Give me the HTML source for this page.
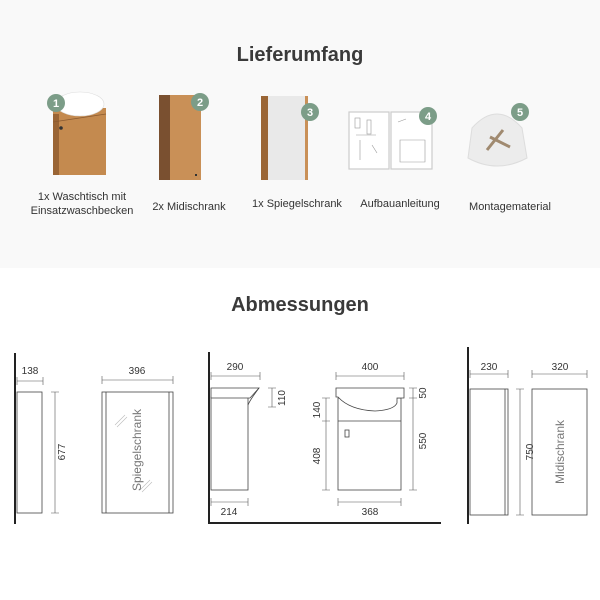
<!DOCTYPE html>
<html><head><meta charset="utf-8"><style>
html,body{margin:0;padding:0;background:#fff;}
svg{display:block;font-family:"Liberation Sans",sans-serif;}
</style></head><body>
<svg width="600" height="600" viewBox="0 0 600 600" xmlns="http://www.w3.org/2000/svg">
<rect x="-10" y="-10" width="620" height="278" rx="8" fill="#f9f9f9"/>
<text x="300" y="61" text-anchor="middle" font-size="20" font-weight="bold" fill="#3a3a3a">Lieferumfang</text>
<text x="300" y="311" text-anchor="middle" font-size="20" font-weight="bold" fill="#3a3a3a">Abmessungen</text>

<!-- item1 -->
<rect x="53" y="108" width="53" height="67" fill="#c48a4f"/>
<rect x="53" y="114" width="6" height="61" fill="#9a6535"/>
<line x1="53" y1="122" x2="106" y2="114" stroke="#8a5a30" stroke-width="0.8"/>
<ellipse cx="80" cy="104" rx="24" ry="12" fill="#fff" stroke="#ddd" stroke-width="0.6"/>
<circle cx="61" cy="128" r="1.8" fill="#333"/>
<!-- item2 -->
<rect x="159" y="95" width="42" height="85" fill="#c99057"/>
<rect x="159" y="95" width="11" height="85" fill="#7a5030"/>
<rect x="195" y="174" width="2" height="2" fill="#333"/>
<!-- item3 -->
<rect x="261" y="96" width="47" height="84" fill="#e9e9e9"/>
<rect x="261" y="96" width="7" height="84" fill="#9a6535"/>
<rect x="305" y="96" width="3" height="84" fill="#c99057"/>
<!-- item4 -->
<rect x="349" y="112" width="40" height="57" fill="#fff" stroke="#ccc" stroke-width="1.2"/>
<rect x="391" y="112" width="41" height="57" fill="#fff" stroke="#ccc" stroke-width="1.2"/>
<g stroke="#999" stroke-width="0.6" fill="none">
<rect x="355" y="118" width="5" height="10"/><rect x="367" y="120" width="4" height="14"/>
<path d="M356 135 h20 M360 140 v20 M372 145 l5 8 M400 140 h25 v22 h-25z M398 122 l8 -3"/>
</g>
<!-- item5 -->
<path d="M472 128 Q497 100 522 128 L527 158 Q497 174 468 158 Z" fill="#ececec" stroke="#ddd"/>
<path d="M487 150 l16 -20 M490 137 l20 10" stroke="#a08a70" stroke-width="3"/>
<!-- badges -->
<g fill="#7c9d88"><circle cx="56" cy="103" r="9"/><circle cx="200" cy="102" r="9"/><circle cx="310" cy="112" r="9"/><circle cx="428" cy="116" r="9"/><circle cx="520" cy="112" r="9"/></g>
<g fill="#fff" font-size="11" font-weight="bold" text-anchor="middle"><text x="56" y="107">1</text><text x="200" y="106">2</text><text x="310" y="116">3</text><text x="428" y="120">4</text><text x="520" y="116">5</text></g>
<g font-size="11" fill="#333" text-anchor="middle">
<text x="82" y="200">1x Waschtisch mit</text><text x="82" y="214">Einsatzwaschbecken</text>
<text x="189" y="210">2x Midischrank</text><text x="297" y="207">1x Spiegelschrank</text>
<text x="400" y="207">Aufbauanleitung</text><text x="510" y="210">Montagematerial</text>
</g>

<!-- drawings -->
<g stroke="#222" stroke-width="2" fill="none">
<line x1="15" y1="353" x2="15" y2="524"/>
<polyline points="209,352 209,523 441,523"/>
<line x1="468" y1="347" x2="468" y2="524"/>
</g>
<g stroke="#444" stroke-width="0.8" fill="#fff">
<rect x="17" y="392" width="25" height="121"/>
<rect x="102" y="392" width="71" height="121"/>
<line x1="106" y1="392" x2="106" y2="513"/><line x1="169" y1="392" x2="169" y2="513"/>
<rect x="211" y="397" width="37" height="93"/>
<path d="M211 388 H259 L250 398 H211 Z"/>
<path d="M259 388 Q250 400 248 405"/>
<rect x="338" y="398" width="63" height="92"/>
<line x1="338" y1="421" x2="401" y2="421"/>
<path d="M336 388 H404 V398 H397 V403 Q394 410 375 411 Q350 410 338 397 H336 Z"/>
<rect x="345" y="430" width="4" height="7"/>
<rect x="470" y="389" width="38" height="126"/>
<line x1="505" y1="389" x2="505" y2="515"/>
<rect x="532" y="389" width="55" height="126"/>
</g>
<g stroke="#bbb" stroke-width="0.6"><path d="M115 425 l10 -10 M117 427 l10 -10 M140 490 l10 -10 M142 492 l10 -10"/></g>
<g stroke="#555" stroke-width="0.6">
<path d="M17 381 H43 M17 377 v8 M43 377 v8"/>
<path d="M55 392 V513 M51 392 h8 M51 513 h8"/>
<path d="M102 380 H173 M102 376 v8 M173 376 v8"/>
<path d="M211 376 H260 M211 372 v8 M260 372 v8"/>
<path d="M272 388 V407 M268 388 h8 M268 407 h8"/>
<path d="M211 502 H248 M211 498 v8 M248 498 v8"/>
<path d="M336 376 H404 M336 372 v8 M404 372 v8"/>
<path d="M413 388 V490 M409 388 h8 M409 398 h8 M409 490 h8"/>
<path d="M326 398 V490 M322 398 h8 M322 421 h8 M322 490 h8"/>
<path d="M338 502 H401 M338 498 v8 M401 498 v8"/>
<path d="M470 374 H508 M470 370 v8 M508 370 v8"/>
<path d="M532 374 H587 M532 370 v8 M587 370 v8"/>
<path d="M520 389 V515 M516 389 h8 M516 515 h8"/>
</g>
<g font-size="10" fill="#333" text-anchor="middle">
<text x="30" y="374">138</text><text x="137" y="374">396</text><text x="235" y="370">290</text>
<text x="229" y="515">214</text><text x="370" y="370">400</text><text x="370" y="515">368</text>
<text x="489" y="370">230</text><text x="560" y="370">320</text>
<text transform="translate(65,452) rotate(-90)">677</text>
<text transform="translate(285,398) rotate(-90)">110</text>
<text transform="translate(426,393) rotate(-90)">50</text>
<text transform="translate(426,441) rotate(-90)">550</text>
<text transform="translate(320,410) rotate(-90)">140</text>
<text transform="translate(320,456) rotate(-90)">408</text>
<text transform="translate(533,452) rotate(-90)">750</text>
</g>
<g font-size="12" fill="#777" text-anchor="middle">
<text transform="translate(141,450) rotate(-90)">Spiegelschrank</text>
<text transform="translate(564,452) rotate(-90)">Midischrank</text>
</g>
</svg>
</body></html>
